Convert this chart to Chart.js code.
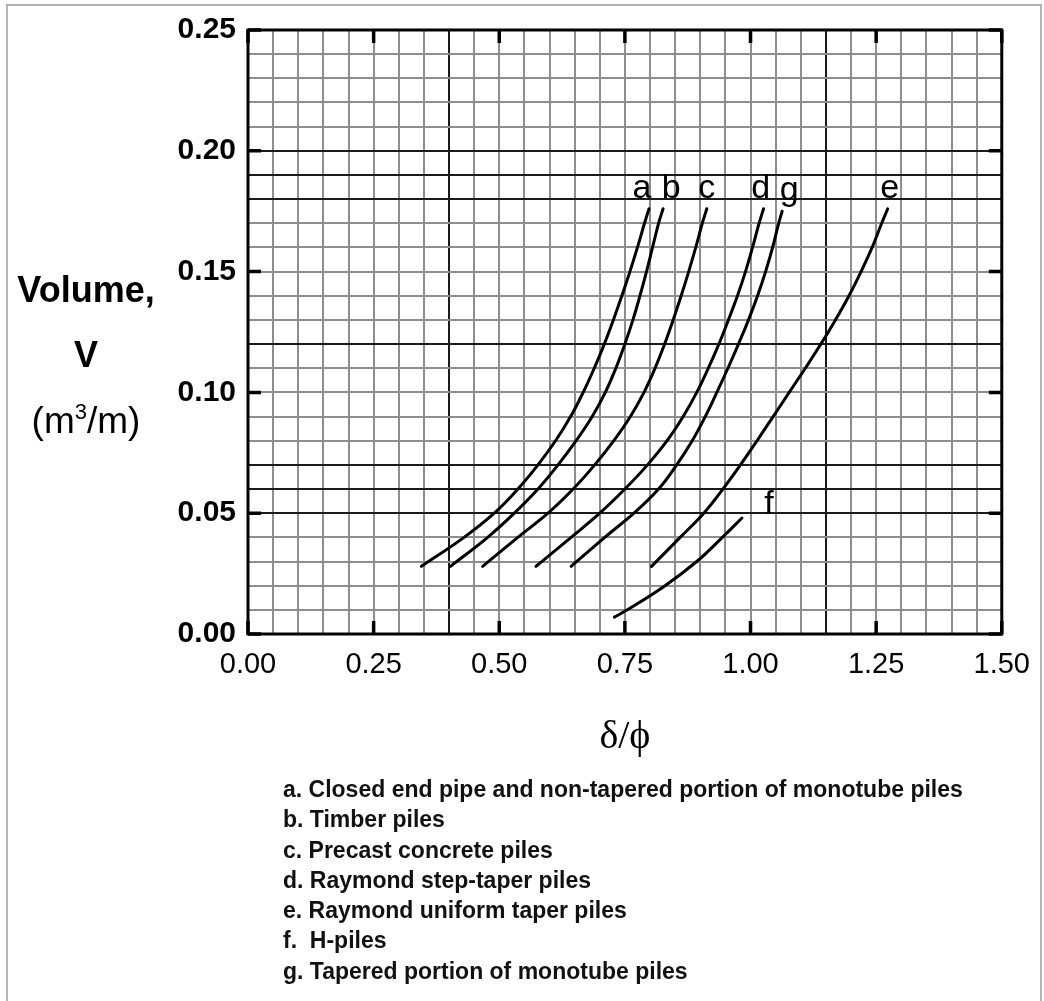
<!DOCTYPE html>
<html>
<head>
<meta charset="utf-8">
<script src="https://cdn.jsdelivr.net/npm/chart.js@4.4.0/dist/chart.umd.min.js"></script>
<style>
    body { margin: 0; background: #fff; overflow: hidden; }
    #wrap { position: relative; width: 1044px; height: 1001px; }
    #grafico { position: absolute; left: 0; top: 0; }
    .moldura { position: absolute; left: 6px; top: 4px; width: 1036px; height: 1010px; border: 2px solid #b4b4b4; box-sizing: border-box; }
    #tituloY { position: absolute; left: 0; width: 172px; text-align: center; font-family: "Liberation Sans", Arial, sans-serif; color: #000; }
    #tituloY div { position: absolute; left: 0; width: 172px; line-height: 1; }
    #legenda { position: absolute; left: 283px; top: 774px; font-family: "Liberation Sans", Arial, sans-serif; font-size: 23px; font-weight: bold; line-height: 30.3px; color: #111; white-space: pre; }
</style>
</head>
<body>
<div id="wrap">
    <canvas id="grafico" width="1044" height="1001"></canvas>
    <div class="moldura"></div>
    <div id="tituloY">
        <div style="top:272px; font-size:36px; font-weight:bold;">Volume,</div>
        <div style="top:337px; font-size:36px; font-weight:bold;">V</div>
        <div style="top:401px; font-size:37px;">(m<sup style="font-size:22px; vertical-align:14px;">3</sup>/m)</div>
    </div>
    <div id="legenda"></div>
</div>
<script>
// curvas: [delta/phi, volume]
const curvaA = [[0.345, 0.028], [0.43, 0.04], [0.49, 0.05], [0.537, 0.06], [0.577, 0.07], [0.612, 0.08], [0.642, 0.09], [0.667, 0.10], [0.689, 0.11], [0.709, 0.12], [0.727, 0.13], [0.744, 0.14], [0.76, 0.15], [0.775, 0.16], [0.789, 0.17], [0.798, 0.176]];
const curvaB = [[0.403, 0.028], [0.477, 0.04], [0.53, 0.05], [0.577, 0.06], [0.617, 0.07], [0.653, 0.08], [0.685, 0.09], [0.711, 0.10], [0.732, 0.11], [0.75, 0.12], [0.766, 0.13], [0.78, 0.14], [0.793, 0.15], [0.805, 0.16], [0.817, 0.17], [0.826, 0.176]];
const curvaC = [[0.467, 0.028], [0.537, 0.04], [0.597, 0.05], [0.647, 0.06], [0.69, 0.07], [0.728, 0.08], [0.761, 0.09], [0.788, 0.10], [0.81, 0.11], [0.829, 0.12], [0.846, 0.13], [0.862, 0.14], [0.877, 0.15], [0.891, 0.16], [0.904, 0.17], [0.913, 0.176]];
const curvaD = [[0.573, 0.028], [0.643, 0.04], [0.70, 0.05], [0.75, 0.06], [0.795, 0.07], [0.834, 0.08], [0.866, 0.09], [0.893, 0.10], [0.916, 0.11], [0.937, 0.12], [0.956, 0.13], [0.974, 0.14], [0.99, 0.15], [1.004, 0.16], [1.017, 0.17], [1.026, 0.176]];
const curvaE = [[0.803, 0.028], [0.86, 0.04], [0.907, 0.05], [0.945, 0.06], [0.98, 0.07], [1.013, 0.08], [1.045, 0.09], [1.077, 0.10], [1.109, 0.11], [1.14, 0.12], [1.169, 0.13], [1.196, 0.14], [1.22, 0.15], [1.242, 0.16], [1.261, 0.17], [1.273, 0.176]];
const curvaF = [[0.729, 0.007], [0.755, 0.01], [0.83, 0.02], [0.893, 0.03], [0.944, 0.04], [0.983, 0.048]];
const curvaG = [[0.643, 0.028], [0.71, 0.04], [0.768, 0.05], [0.817, 0.06], [0.853, 0.07], [0.884, 0.08], [0.91, 0.09], [0.933, 0.10], [0.955, 0.11], [0.976, 0.12], [0.996, 0.13], [1.014, 0.14], [1.03, 0.15], [1.044, 0.16], [1.056, 0.17], [1.063, 0.175]];

const nomesCurvas = ['a', 'b', 'c', 'd', 'e', 'f', 'g'];
const ticksX = [0, 0.25, 0.50, 0.75, 1.00, 1.25, 1.50];
const ticksY = [0, 0.05, 0.10, 0.15, 0.20, 0.25];

const legendaTextos = [
    'a. Closed end pipe and non-tapered portion of monotube piles',
    'b. Timber piles',
    'c. Precast concrete piles',
    'd. Raymond step-taper piles',
    'e. Raymond uniform taper piles',
    'f.  H-piles',
    'g. Tapered portion of monotube piles'
];

// linhas mais escuras do papel milimetrado
const escurasX = [0.40, 1.15];
const escurasY = [0.05, 0.06, 0.07, 0.12, 0.18, 0.19, 0.20];
// deslocamento das letras em relacao ao fim da curva (px)
const deslocLetra = { a: [-7, -11], b: [8, -11], c: [0, -11], d: [-3, -11], e: [2, -11], f: [27, -4], g: [7, -11] };

function arred(v) {
    return Math.round(v * 100) / 100;
}

function ehMarcado(lista, v) {
    return lista.some(t => Math.abs(t - v) < 1e-6);
}

const molduraPlugin = {
    id: 'molduraPlugin',
    afterDatasetsDraw(chart) {
        const ctx = chart.ctx;
        const area = chart.chartArea;
        const sx = chart.scales.x;
        const sy = chart.scales.y;
        ctx.save();
        ctx.strokeStyle = '#000';
        ctx.lineWidth = 3;
        ctx.strokeRect(area.left, area.top, area.right - area.left, area.bottom - area.top);
        ctx.lineWidth = 3.5;
        ctx.beginPath();
        ticksX.forEach(v => {
            const px = sx.getPixelForValue(v);
            ctx.moveTo(px, area.bottom); ctx.lineTo(px, area.bottom - 13);
            ctx.moveTo(px, area.top); ctx.lineTo(px, area.top + 13);
        });
        ticksY.forEach(v => {
            const py = sy.getPixelForValue(v);
            ctx.moveTo(area.left, py); ctx.lineTo(area.left + 13, py);
            ctx.moveTo(area.right, py); ctx.lineTo(area.right - 13, py);
        });
        ctx.stroke();

        ctx.fillStyle = '#000';
        ctx.font = '34px "Liberation Sans", Arial, sans-serif';
        ctx.textAlign = 'center';
        ctx.textBaseline = 'alphabetic';
        chart.data.datasets.forEach((ds, i) => {
            const meta = chart.getDatasetMeta(i);
            const ultimo = meta.data[meta.data.length - 1];
            const d = deslocLetra[ds.label];
            ctx.fillText(ds.label, ultimo.x + d[0], ultimo.y + d[1]);
        });
        ctx.restore();
    }
};

let myChart;

function criaGrafico() {
    const curvas = [curvaA, curvaB, curvaC, curvaD, curvaE, curvaF, curvaG];
    const ctx = document.getElementById('grafico').getContext('2d');

    myChart = new Chart(ctx, {
        type: 'line',
        data: {
            datasets: curvas.map((c, i) => ({
                label: nomesCurvas[i],
                data: c.map(p => ({ x: p[0], y: p[1] })),
                borderColor: '#000',
                borderWidth: 3,
                borderCapStyle: 'round',
                pointRadius: 0,
                fill: false,
                tension: 0.4
            }))
        },
        options: {
            responsive: false,
            animation: false,
            layout: {
                padding: { left: 0, right: 40, top: 27, bottom: 240 }
            },
            plugins: {
                legend: { display: false },
                tooltip: { enabled: false }
            },
            scales: {
                x: {
                    type: 'linear',
                    min: 0,
                    max: 1.5,
                    afterFit: function (scale) { scale.height = 127; },
                    border: { display: false },
                    grid: {
                        drawTicks: false,
                        lineWidth: 2,
                        color: c => ehMarcado(escurasX, arred(c.tick.value)) ? '#1a1a1a' : '#8e8e8e'
                    },
                    ticks: {
                        stepSize: 0.05,
                        autoSkip: false,
                        maxRotation: 0,
                        minRotation: 0,
                        padding: 14,
                        color: '#000',
                        font: { family: '"Liberation Sans", Arial, sans-serif', size: 29 },
                        callback: v => ehMarcado(ticksX, arred(v)) ? v.toFixed(2) : ''
                    },
                    title: {
                        display: true,
                        text: 'δ/ϕ',
                        color: '#000',
                        padding: 0,
                        font: { family: '"Liberation Serif", "DejaVu Serif", serif', size: 40 }
                    }
                },
                y: {
                    min: 0,
                    max: 0.25,
                    afterFit: function (scale) { scale.width = 248; },
                    border: { display: false },
                    grid: {
                        drawTicks: false,
                        lineWidth: 2,
                        color: c => ehMarcado(escurasY, arred(c.tick.value)) ? '#1a1a1a' : '#8e8e8e'
                    },
                    ticks: {
                        stepSize: 0.01,
                        autoSkip: false,
                        padding: 12,
                        color: '#000',
                        font: { family: '"Liberation Sans", Arial, sans-serif', size: 30, weight: 'bold' },
                        callback: v => ehMarcado(ticksY, arred(v)) ? v.toFixed(2) : ''
                    }
                }
            }
        },
        plugins: [molduraPlugin]
    });
}

document.getElementById('legenda').innerHTML = legendaTextos.map(t => '<div>' + t + '</div>').join('');
criaGrafico();
</script>
</body>
</html>
